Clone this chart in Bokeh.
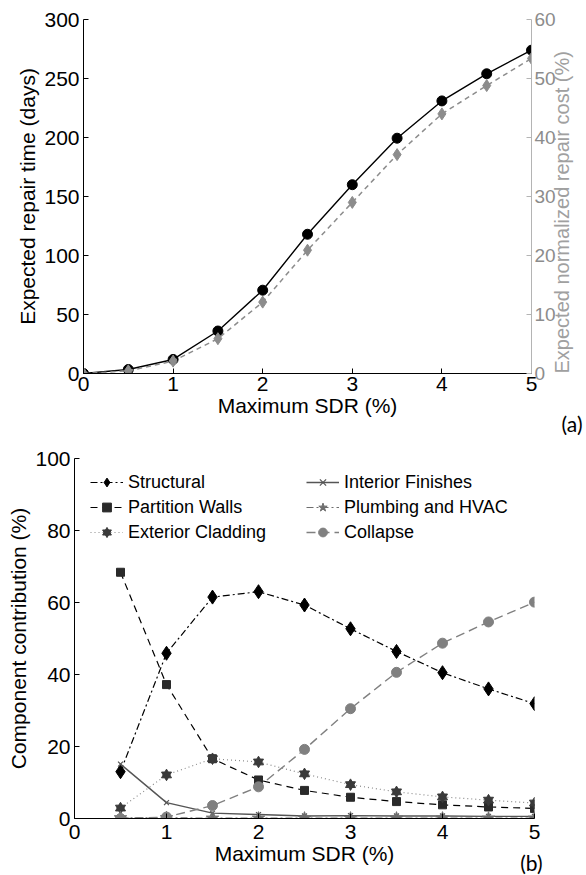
import math
from bokeh.plotting import figure
from bokeh.models import Range1d, LinearAxis, FixedTicker, Legend, LegendItem, Title
from bokeh.embed import file_html
from bokeh.resources import INLINE

# ---------------- data ----------------
sdr_a = [0, 0.5, 1, 1.5, 2, 2.5, 3, 3.5, 4, 4.5, 5]
repair_time_days = [0, 3.4, 11.9, 36, 70.6, 118, 160, 199.4, 231, 254, 274]
repair_cost_pct = [0, 0.45, 2.1, 5.9, 12.1, 20.9, 29, 37.1, 44, 48.8, 53.4]

sdr_b = [0.5, 1, 1.5, 2, 2.5, 3, 3.5, 4, 4.5, 5]
structural = [13.0, 45.9, 61.5, 63.0, 59.3, 52.7, 46.4, 40.5, 36.0, 31.9]
partition_walls = [68.4, 37.2, 16.6, 10.7, 7.8, 5.9, 4.7, 3.8, 3.2, 2.8]
exterior_cladding = [2.9, 12.1, 16.6, 15.7, 12.4, 9.4, 7.4, 6.0, 5.1, 4.3]
interior_finishes = [15.1, 4.4, 1.5, 1.1, 0.7, 0.8, 0.7, 0.7, 0.6, 0.6]
plumbing_hvac = [0.2, 0.2, 0.1, 0.1, 0.1, 0.1, 0.1, 0.1, 0.1, 0.1]
collapse = [0.0, 0.4, 3.6, 8.8, 19.2, 30.5, 40.6, 48.7, 54.6, 60.1]

x_ticks = [0, 1, 2, 3, 4, 5]
left_ticks_a = [0, 50, 100, 150, 200, 250, 300]
right_ticks_a = [0, 10, 20, 30, 40, 50, 60]
ticks_b = [0, 20, 40, 60, 80, 100]

FONT = "Liberation Sans"
FS = "21px"


def style_axis(ax, color="black", label_color="black", title_color="black"):
    ax.major_tick_in = 5
    ax.major_tick_out = 0
    ax.minor_tick_in = 0
    ax.minor_tick_out = 0
    ax.minor_tick_line_color = None
    ax.axis_line_color = color
    ax.major_tick_line_color = color
    ax.major_label_text_color = label_color
    ax.major_label_text_font = FONT
    ax.major_label_text_font_size = FS
    ax.axis_label_text_font = FONT
    ax.axis_label_text_font_size = FS
    ax.axis_label_text_font_style = "normal"
    ax.axis_label_text_color = title_color
    ax.major_label_standoff = 4
    ax.axis_label_standoff = 2


def panel_tag(text, offset, standoff):
    # title in the outer bottom panel, pulled back over the lower part of the border
    return Title(text=text, align="right", vertical_align="top", offset=offset, standoff=standoff,
                 text_font="Lato", text_font_size="21px", text_font_style="normal", text_color="black")


# ---------------- (a) ----------------
p1 = figure(width=586, height=435, x_range=Range1d(0, 5), y_range=Range1d(0, 300),
            output_backend="svg", toolbar_location=None,
            min_border_left=83, min_border_right=53, min_border_top=19, min_border_bottom=62)
p1.outline_line_color = None
p1.xgrid.visible = False
p1.ygrid.visible = False
p1.extra_y_ranges = {"cost": Range1d(0, 60)}

p1.xaxis.ticker = FixedTicker(ticks=x_ticks)
p1.yaxis.ticker = FixedTicker(ticks=left_ticks_a)
p1.xaxis.axis_label = "Maximum SDR (%)"
p1.yaxis.axis_label = "Expected repair time (days)"
style_axis(p1.xaxis[0])
style_axis(p1.yaxis[0])
p1.xaxis.major_label_standoff = 3
p1.xaxis.axis_label_standoff = 0

rax = LinearAxis(y_range_name="cost", ticker=FixedTicker(ticks=right_ticks_a),
                 axis_label="Expected normalized repair cost (%)")
style_axis(rax, color="#b4b4b4", label_color="#8c8c8c", title_color="#a0a0a0")
rax.major_label_standoff = 3
rax.major_label_text_font_size = "19px"
rax.axis_label_standoff = 3
rax.axis_label_text_font_size = "20px"
rax.axis_label_orientation = math.pi / 2
rax.axis_label_align = "start"
p1.add_layout(rax, "right")

p1.line(sdr_a, repair_time_days, line_color="black", line_width=1.4)
p1.scatter(sdr_a, repair_time_days, marker="circle", size=10, fill_color="black", line_color="black")
p1.line(sdr_a, repair_cost_pct, y_range_name="cost", line_color="#8c8c8c", line_width=1.5, line_dash="5 4")
p1.scatter(sdr_a, repair_cost_pct, y_range_name="cost", marker="diamond", size=12,
           fill_color="#8c8c8c", line_color="#8c8c8c")

p1.add_layout(panel_tag("(a)", -51, -17), "below")

# ---------------- (b) ----------------
p2 = figure(width=586, height=440, x_range=Range1d(0, 5), y_range=Range1d(0, 100),
            output_backend="svg", toolbar_location=None,
            min_border_left=74, min_border_right=52, min_border_top=23, min_border_bottom=57)
p2.outline_line_color = None
p2.xgrid.visible = False
p2.ygrid.visible = False
p2.xaxis.ticker = FixedTicker(ticks=x_ticks)
p2.yaxis.ticker = FixedTicker(ticks=ticks_b)
p2.xaxis.axis_label = "Maximum SDR (%)"
p2.yaxis.axis_label = "Component contribution (%)"
style_axis(p2.xaxis[0])
style_axis(p2.yaxis[0])
p2.xaxis.major_label_standoff = 6
p2.xaxis.axis_label_standoff = 0

l_str = p2.line(sdr_b, structural, line_color="black", line_width=1.2, line_dash="7 3 2 3")
m_str = p2.scatter(sdr_b, structural, marker="diamond", size=14, fill_color="black", line_color="black")

l_par = p2.line(sdr_b, partition_walls, line_color="black", line_width=1.2, line_dash="7 5")
m_par = p2.scatter(sdr_b, partition_walls, marker="square", size=8, fill_color="#2a2a2a", line_color="#2a2a2a")

l_ext = p2.line(sdr_b, exterior_cladding, line_color="#8c8c8c", line_width=1.2, line_dash="1 3")
m_ext1 = p2.scatter(sdr_b, exterior_cladding, marker="triangle", size=10, fill_color="#3a3a3a", line_color="#3a3a3a")
m_ext2 = p2.scatter(sdr_b, exterior_cladding, marker="inverted_triangle", size=10, fill_color="#3a3a3a", line_color="#3a3a3a")

l_int = p2.line(sdr_b, interior_finishes, line_color="#555555", line_width=1.4)
m_int = p2.scatter(sdr_b, interior_finishes, marker="x", size=7, line_color="#555555", line_width=1.2)

l_plu = p2.line(sdr_b, plumbing_hvac, line_color="#6e6e6e", line_width=1.2, line_dash="7 3 2 3")
m_plu = p2.scatter(sdr_b, plumbing_hvac, marker="star", size=13, fill_color="#6e6e6e", line_color="#6e6e6e")

l_col = p2.line(sdr_b, collapse, line_color="#808080", line_width=1.4, line_dash="9 5")
m_col = p2.scatter(sdr_b, collapse, marker="circle", size=10, fill_color="#808080", line_color="#808080")


def make_legend(items, loc):
    lg = Legend(items=items, location=loc, orientation="vertical",
                border_line_color=None, background_fill_alpha=0,
                padding=0, margin=0, spacing=3, glyph_width=33, glyph_height=22,
                label_height=22, label_standoff=5,
                label_text_font=FONT, label_text_font_size="18px", label_text_color="black")
    p2.add_layout(lg)
    return lg


make_legend([
    LegendItem(label="Structural", renderers=[l_str, m_str]),
    LegendItem(label="Partition Walls", renderers=[l_par, m_par]),
    LegendItem(label="Exterior Cladding", renderers=[l_ext, m_ext1, m_ext2]),
], (16, 275))
make_legend([
    LegendItem(label="Interior Finishes", renderers=[l_int, m_int]),
    LegendItem(label="Plumbing and HVAC", renderers=[l_plu, m_plu]),
    LegendItem(label="Collapse", renderers=[l_col, m_col]),
], (232, 275))

p2.add_layout(panel_tag("(b)", -8, -35), "below")

open("out.html", "w").write(file_html([p1, p2], INLINE))
